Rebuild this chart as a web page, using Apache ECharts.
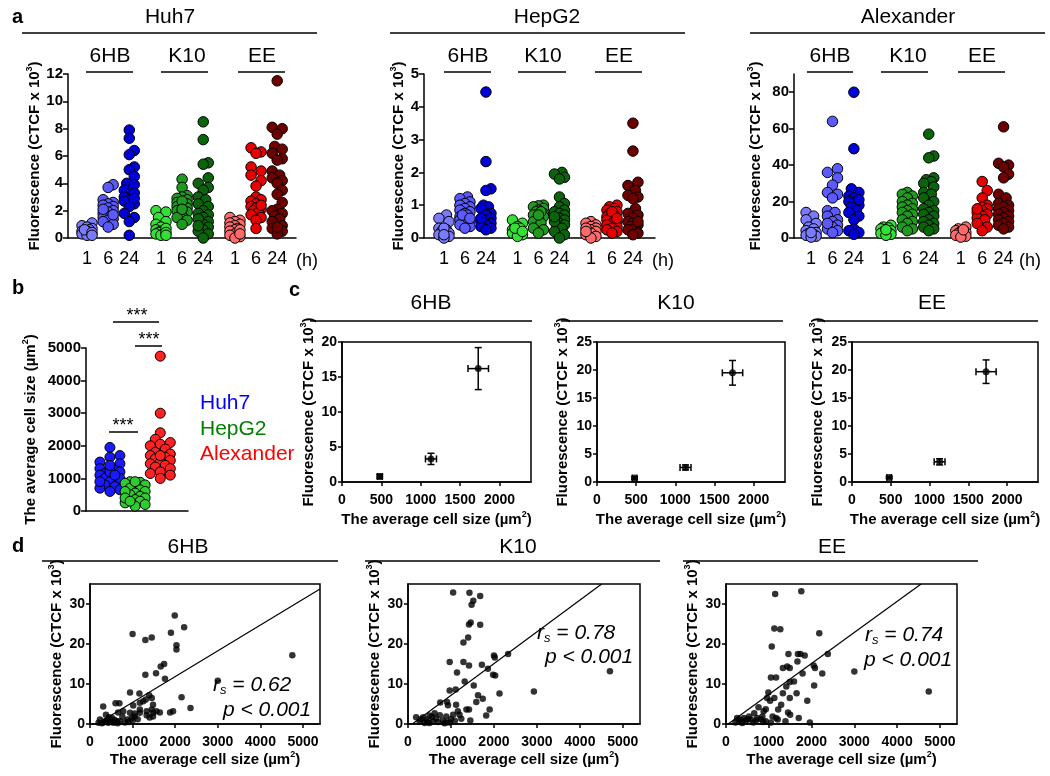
<!DOCTYPE html>
<html><head><meta charset="utf-8">
<script src="https://cdn.jsdelivr.net/npm/echarts@6/dist/echarts.min.js"></script>
<style>html,body{margin:0;padding:0;background:#fff}#c{width:1050px;height:776px}</style>
</head><body><div id="c"></div>
<script>
// ================= DATA =================
const cellLines = ['Huh7', 'HepG2', 'Alexander'];
const treatments = ['6HB', 'K10', 'EE'];
const timeLabels = ['1', '6', '24'];

// Panel a : fluorescence (CTCF x 10^3) per cell line / treatment / time
const huh7_6HB_1h  = [1.1, 0.9, 0.8, 0.7, 0.6, 0.5, 0.5, 0.4, 0.3, 0.3, 0.2, 0.6, 0.4, 0.2];
const huh7_6HB_6h  = [3.9, 3.7, 2.8, 2.6, 2.5, 2.4, 2.3, 2.2, 2.0, 1.9, 1.8, 1.6, 1.5, 1.4, 1.3, 1.2, 1.0, 0.8, 2.1, 1.7];
const huh7_6HB_24h = [7.9, 7.3, 6.4, 6.1, 5.2, 5.0, 4.5, 4.0, 3.9, 3.5, 3.2, 3.0, 2.8, 2.7, 2.5, 2.3, 1.8, 1.5, 1.2, 0.2, 3.3, 2.9];
const huh7_K10_1h  = [2.0, 1.9, 1.5, 1.2, 1.0, 0.8, 0.6, 0.5, 0.4, 0.3, 0.3, 0.2, 0.7, 0.4, 0.2];
const huh7_K10_6h  = [4.3, 3.7, 3.1, 3.0, 2.9, 2.8, 2.6, 2.5, 2.4, 2.3, 2.2, 2.0, 1.9, 1.6, 1.5, 1.3, 1.0, 2.7, 2.1];
const huh7_K10_24h = [8.5, 7.2, 5.5, 5.4, 4.4, 4.0, 3.7, 3.5, 3.0, 2.8, 2.5, 2.3, 2.0, 1.8, 1.7, 1.5, 1.2, 1.0, 0.8, 0.6, 0.5, 0.3, 0.0, 1.4, 0.9];
const huh7_EE_1h   = [1.5, 1.3, 1.2, 1.1, 1.0, 0.9, 0.8, 0.7, 0.6, 0.5, 0.4, 0.3, 0.2, 0.1, 0.0, 0.6, 0.3];
const huh7_EE_6h   = [6.6, 6.3, 6.2, 5.2, 4.9, 4.6, 4.2, 3.8, 3.0, 2.8, 2.7, 2.5, 2.3, 2.2, 2.1, 2.0, 1.9, 1.7, 1.5, 1.3, 0.7, 2.4];
const huh7_EE_24h  = [11.5, 8.1, 8.0, 7.6, 6.7, 6.5, 6.2, 5.8, 5.7, 4.9, 4.6, 4.4, 4.2, 4.0, 3.5, 3.2, 2.6, 2.1, 2.0, 1.8, 1.6, 1.4, 1.2, 0.9, 0.7, 0.5, 0.3, 0.8];

const hepg2_6HB_1h  = [0.7, 0.6, 0.5, 0.3, 0.25, 0.2, 0.15, 0.1, 0.05, 0.0, 0.3, 0.1];
const hepg2_6HB_6h  = [1.25, 1.2, 1.1, 1.05, 1.0, 0.95, 0.9, 0.85, 0.8, 0.75, 0.7, 0.65, 0.6, 0.55, 0.5, 0.45, 0.4, 0.35, 0.3, 0.7, 0.6];
const hepg2_6HB_24h = [4.45, 2.33, 1.5, 1.45, 1.0, 0.95, 0.9, 0.75, 0.7, 0.6, 0.55, 0.5, 0.45, 0.4, 0.35, 0.3, 0.25, 0.6];
const hepg2_K10_1h  = [0.55, 0.45, 0.35, 0.3, 0.25, 0.2, 0.15, 0.1, 0.05, 0.3, 0.2];
const hepg2_K10_6h  = [1.0, 0.98, 0.95, 0.9, 0.85, 0.8, 0.75, 0.7, 0.65, 0.6, 0.5, 0.45, 0.3, 0.25, 0.15, 0.8, 0.7];
const hepg2_K10_24h = [2.0, 1.95, 1.85, 1.8, 1.25, 1.05, 0.95, 0.85, 0.8, 0.75, 0.7, 0.6, 0.55, 0.45, 0.4, 0.35, 0.3, 0.2, 0.1, 0.0, 0.5, 0.65];
const hepg2_EE_1h   = [0.5, 0.45, 0.4, 0.35, 0.3, 0.25, 0.2, 0.15, 0.1, 0.05, 0.0, 0.3, 0.2];
const hepg2_EE_6h   = [1.0, 0.95, 0.9, 0.85, 0.8, 0.75, 0.7, 0.65, 0.6, 0.55, 0.5, 0.45, 0.4, 0.35, 0.3, 0.25, 0.2, 0.15, 0.8, 0.6];
const hepg2_EE_24h  = [3.5, 2.65, 1.7, 1.6, 1.45, 1.3, 1.25, 1.2, 0.9, 0.75, 0.7, 0.6, 0.5, 0.45, 0.4, 0.35, 0.3, 0.25, 0.15, 0.1, 0.5];

const alex_6HB_1h  = [14, 12, 10, 8, 6, 5, 4, 3, 2.5, 2, 1.5, 1, 0.5, 3];
const alex_6HB_6h  = [64, 38, 36, 33, 29, 25, 24, 22, 15, 14, 12, 10, 9, 7, 6, 5, 4, 3, 8];
const alex_6HB_24h = [80, 49, 27, 25, 23, 22, 20, 19, 18, 17, 15, 14, 12, 10, 5, 4, 3, 2, 21];
const alex_K10_1h  = [7, 6, 5.5, 5, 4, 3.5, 3, 2.5, 2, 1.5, 4.5];
const alex_K10_6h  = [25, 24, 23, 22, 20, 19, 18, 17, 16, 15, 14, 13, 12, 10, 9, 8, 6, 5, 4];
const alex_K10_24h = [57, 45, 44, 33, 32, 31, 30, 28, 25, 24, 22, 20, 18, 16, 15, 14, 13, 12, 10, 9, 8, 7, 6, 5, 4];
const alex_EE_1h   = [6, 5, 4, 3.5, 3, 2.5, 2, 1.5, 1, 0.5, 4.5];
const alex_EE_6h   = [31, 26, 22, 18, 17, 16, 15, 14, 13, 12, 11, 10, 8, 6, 4, 16];
const alex_EE_24h  = [61, 41, 40, 39, 35, 33, 24, 22, 19, 18, 17, 16, 15, 14, 13, 12, 11, 10, 9, 8, 7, 6, 5];

// Panel a y-axis ticks
const huh7Ticks = [0, 2, 4, 6, 8, 10, 12];
const hepg2Ticks = [0, 1, 2, 3, 4, 5];
const alexTicks = [0, 20, 40, 60, 80];

// Panel b : average cell size (um^2)
const sizeHuh7  = [1950, 1700, 1650, 1500, 1450, 1300, 1250, 1200, 1150, 1100, 1050, 1000, 950, 900, 850, 800, 750, 700, 650, 600, 1000, 1200, 1400, 900, 1100];
const sizeHepG2 = [900, 880, 850, 800, 750, 700, 650, 600, 550, 500, 450, 400, 350, 300, 250, 200, 150, 900, 600, 400, 300];
const sizeAlex  = [4750, 3000, 2400, 2200, 2100, 2050, 2000, 1900, 1800, 1750, 1700, 1650, 1600, 1550, 1500, 1450, 1400, 1350, 1300, 1200, 1150, 1100, 1000, 1700];
const sizeTicks = [0, 1000, 2000, 3000, 4000, 5000];

// Panel c : means +/- error (order HepG2, Huh7, Alexander)
const cSize    = [480, 1130, 1730];
const cSizeErr = [30, 70, 130];
const c6HB     = [0.8, 3.3, 16.2];
const c6HBErr  = [0.3, 0.8, 3.0];
const cK10     = [0.7, 2.6, 19.5];
const cK10Err  = [0.25, 0.45, 2.2];
const cEE      = [0.8, 3.6, 19.7];
const cEEErr   = [0.2, 0.55, 2.1];
const cXTicks  = [0, 500, 1000, 1500, 2000];

// Panel d : individual points [cell size, fluorescence]
const d6HB = [[1000,22.5],[1300,21.0],[1450,21.6],[1990,27.1],[1900,22.8],[2210,24.2],[2030,19.7],[2030,18.6],[4750,17.2],[3000,10.8],
 [1740,15.0],[1660,14.4],[1550,12.7],[1300,12.3],[1760,11.3],[2150,6.7],[2360,4.0],[940,7.9],[1160,7.6],[1390,7.2],[1450,6.5],[1250,5.7],
 [1015,4.6],[690,5.2],[600,5.2],[310,4.4],[1170,5.3],[1310,6.1],[1480,4.8],[1450,3.6],[1560,3.2],[1950,3.2],[1880,2.9],[1640,2.9],[1480,1.9],
 [1330,2.2],[1170,2.8],[1050,2.6],[940,2.8],[780,3.2],[660,2.9],[880,1.1],[980,1.5],[625,0.7],[470,0.7],[310,0.4],[200,0.3],[390,0.9],
 [550,0.3],[700,0.7],[820,0.4],[1050,1.9],[235,1.1],[375,2.3],[1170,3.6],[1330,3.2],[1480,2.8],[280,0.2],[430,0.3],[520,1.5],[760,1.8],
 [900,0.5],[350,0.6],[650,0.2],[1000,0.9],[1120,1.2],[450,1.7],[1400,1.6],[580,1.0]];
const dK10 = [[1050,32.9],[1430,32.8],[1680,32.0],[1520,30.8],[1480,29.8],[1460,25.4],[1420,24.9],[1680,24.8],[1400,21.6],[1290,20.4],
 [970,15.5],[1290,15.5],[1420,14.6],[1720,14.8],[1140,12.9],[2000,17.1],[2020,16.6],[2330,17.5],[1860,13.8],[1980,12.3],[2030,12.1],
 [1320,10.6],[1530,9.6],[970,8.4],[1110,8.6],[2930,8.1],[4700,13.2],[2130,7.6],[1630,7.2],[1740,6.3],[1590,5.5],[750,5.4],[910,5.5],
 [930,4.7],[1120,4.8],[1360,3.6],[1420,3.6],[1900,3.6],[1820,2.1],[1450,0.9],[1160,3.2],[1200,2.3],[1050,2.3],[890,1.9],[740,2.2],
 [620,2.7],[500,2.1],[350,1.7],[190,1.7],[270,0.7],[430,1.1],[580,0.7],[700,0.5],[810,0.9],[970,0.4],[1090,0.8],[1240,1.3],[500,0.25],
 [390,0.25],[890,0.4],[650,1.4],[300,1.2],[850,0.2],[1000,1.2],[560,1.8],[450,0.5]];
const dEE = [[1150,32.5],[1760,33.2],[1130,23.9],[1270,23.7],[2180,22.7],[1070,19.4],[1740,17.5],[1680,17.5],[1840,17.1],[2380,17.5],
 [1460,17.5],[1430,14.4],[1490,14.0],[1330,14.0],[2050,14.6],[2080,14.0],[1670,15.6],[2250,12.6],[1790,12.6],[3000,13.1],[1050,11.6],
 [1170,11.6],[1490,10.5],[1590,10.6],[2060,9.6],[1410,9.4],[990,7.9],[1330,7.7],[1650,7.7],[4740,8.1],[960,6.5],[1030,5.8],[1130,6.5],
 [1490,6.5],[1900,5.8],[1290,4.8],[760,4.2],[930,3.7],[880,3.2],[1220,3.6],[1450,2.9],[1500,2.3],[660,2.7],[1170,1.5],[1210,1.1],
 [1700,1.5],[1390,0.7],[1960,0.4],[260,1.5],[340,1.1],[460,0.7],[580,1.1],[700,0.9],[810,1.2],[930,0.7],[1050,0.4],[540,1.9],[420,1.5],
 [220,0.4],[380,0.25],[730,1.5],[850,1.9],[1090,1.9],[300,0.8],[640,0.4],[500,1.2],[870,0.5]];
const dXTicks = [0, 1000, 2000, 3000, 4000, 5000];
const dYTicks = [0, 10, 20, 30];
// Spearman annotations and fitted line (slope, intercept)
const dRs = ['0.62', '0.78', '0.74'];
const dP = ['0.001', '0.001', '0.001'];
const dSlope = [0.00644, 0.00794, 0.00776];
const dIntercept = [-1.03, -0.79, -0.39];

// ================= BUILD =================
const FONT = '"Liberation Sans", Arial, Helvetica, sans-serif';
const aData = [
  [[huh7_6HB_1h, huh7_6HB_6h, huh7_6HB_24h], [huh7_K10_1h, huh7_K10_6h, huh7_K10_24h], [huh7_EE_1h, huh7_EE_6h, huh7_EE_24h]],
  [[hepg2_6HB_1h, hepg2_6HB_6h, hepg2_6HB_24h], [hepg2_K10_1h, hepg2_K10_6h, hepg2_K10_24h], [hepg2_EE_1h, hepg2_EE_6h, hepg2_EE_24h]],
  [[alex_6HB_1h, alex_6HB_6h, alex_6HB_24h], [alex_K10_1h, alex_K10_6h, alex_K10_24h], [alex_EE_1h, alex_EE_6h, alex_EE_24h]]
];
const aTicks = [huh7Ticks, hepg2Ticks, alexTicks];
const aColors = [['#7b7bff', '#5a5aff', '#0000d8'], ['#33e033', '#1f9a1f', '#0a640a'], ['#ff6a6a', '#e80000', '#6e0000']];

const aLayout = [
  {left: 68, width: 228, xmin: 0.10, xmax: 10.89, ymax: 12, gap: 24, titleX: 170, lineX: [22, 317], trtX: [110, 187, 262], trtL: [[86,133],[161,208],[238,285]], hX: 307},
  {left: 424, width: 231, xmin: 0.05, xmax: 11.05, ymax: 5, gap: 16, titleX: 547, lineX: [390, 685], trtX: [468, 543, 619], trtL: [[444,491],[518,566],[595,642]], hX: 663},
  {left: 794, width: 216, xmin: 0.2, xmax: 10.3, ymax: 90, gap: 29, titleX: 908, lineX: [750, 1045], trtX: [830, 908, 982], trtL: [[807,853],[881,928],[958,1005]], hX: 1030}
];
const A_TOP = 74, A_H = 164;

const grids = [], xAxes = [], yAxes = [], series = [], graphics = [];
const plain = v => String(v);

function swarm(values, pxPerY, cands, minDist) {
  const order = values.map((v, i) => i).sort((a, b) => values[a] - values[b]);
  const placed = [], offs = new Array(values.length);
  for (const i of order) {
    const y = values[i] * pxPerY;
    let best = null, bestD = -1;
    for (const c of cands) {
      let md = Infinity;
      for (const p of placed) { const d = Math.hypot(p[0] - c, p[1] - y); if (d < md) md = d; }
      if (md >= minDist) { best = c; bestD = md; break; }
      if (md > bestD) { bestD = md; best = c; }
    }
    placed.push([best, y]); offs[i] = best;
  }
  return offs;
}

function txt(x, y, text, font, fill, align, extra) {
  graphics.push(Object.assign({type: 'text', x, y, silent: true, z: 100,
    style: Object.assign({text, font, fill: fill || '#000', align: align || 'center', verticalAlign: 'middle'}, extra || {})}));
}
function hline(x1, x2, y, w) {
  graphics.push({type: 'line', silent: true, z: 100, shape: {x1, y1: y, x2, y2: y}, style: {stroke: '#000', lineWidth: w || 1.5}});
}

const fluorName = '{n|Fluorescence (CTCF x 10}{s|3}{n|)}';
const sizeName = '{n|The average cell size (µm}{s|2}{n|)}';
function nameRich(fs) {
  return {
    n: {fontFamily: FONT, fontWeight: 'bold', fontSize: fs, color: '#000', lineHeight: fs + 4},
    s: {fontFamily: FONT, fontWeight: 'bold', fontSize: Math.round(fs * 0.62), color: '#000', verticalAlign: 'top', lineHeight: Math.round(fs * 0.62)}
  };
}

// ---------- Panel a ----------
let gi = 0;
const aPos = [1, 2, 3, 4.5, 5.5, 6.5, 8, 9, 10];
aLayout.forEach((L, p) => {
  grids.push({left: L.left, top: A_TOP, width: L.width, height: A_H, show: false});
  const U = L.width / (L.xmax - L.xmin);
  const pxPerY = A_H / L.ymax;
  xAxes.push({type: 'value', gridIndex: gi, min: L.xmin, max: L.xmax,
    axisLine: {show: true, onZero: false, lineStyle: {color: '#000', width: 1.5}},
    axisTick: {show: false}, splitLine: {show: false},
    axisLabel: {customValues: aPos, margin: 12, fontFamily: FONT, fontSize: 18, color: '#000',
      formatter: v => { const k = aPos.indexOf(v); return k < 0 ? '' : timeLabels[k % 3]; }}});
  yAxes.push({type: 'value', gridIndex: gi, min: 0, max: L.ymax,
    axisLine: {show: true, onZero: false, lineStyle: {color: '#000', width: 1.5}},
    axisTick: {show: true, length: 5, customValues: aTicks[p], lineStyle: {color: '#000', width: 1.5}},
    axisLabel: {customValues: aTicks[p], formatter: plain, margin: 5, fontFamily: FONT, fontWeight: 'bold', fontSize: 15, color: '#000'},
    splitLine: {show: false},
    name: fluorName, nameLocation: 'middle', nameGap: L.gap, nameRotate: 90, nameMoveOverlap: false,
    nameTextStyle: {rich: nameRich(15)}});
  aData[p].forEach((grp, g) => {
    grp.forEach((vals, t) => {
      const center = aPos[g * 3 + t];
      const offs = swarm(vals, pxPerY, [0, 5, -5, 2.5, -2.5], 8);
      series.push({type: 'scatter', xAxisIndex: gi, yAxisIndex: gi, symbolSize: 10.5, silent: true,
        itemStyle: {color: aColors[g][t], borderColor: '#000', borderWidth: 1, opacity: 1},
        data: vals.map((v, i) => [center + offs[i] / U, v])});
    });
  });
  txt(L.titleX, 17, cellLines[p], '21px ' + FONT);
  hline(L.lineX[0], L.lineX[1], 33);
  treatments.forEach((tr, g) => { txt(L.trtX[g], 56, tr, '21px ' + FONT); hline(L.trtL[g][0], L.trtL[g][1], 72); });
  txt(L.hX, 261, '(h)', '18px ' + FONT);
  gi++;
});

// ---------- Panel b ----------
const bColors = ['#1a1aff', '#2ecc2e', '#ff2222'];
const bSizes = [sizeHuh7, sizeHepG2, sizeAlex];
{
  const B = {left: 86, top: 348, width: 102, height: 163, xmin: 0.05, xmax: 4.1};
  grids.push({left: B.left, top: B.top, width: B.width, height: B.height, show: false});
  const U = B.width / (B.xmax - B.xmin), pxPerY = B.height / 5000;
  xAxes.push({type: 'value', gridIndex: gi, min: B.xmin, max: B.xmax,
    axisLine: {show: true, onZero: false, lineStyle: {color: '#000', width: 1.5}},
    axisTick: {show: false}, axisLabel: {show: false}, splitLine: {show: false}});
  yAxes.push({type: 'value', gridIndex: gi, min: 0, max: 5000,
    axisLine: {show: true, onZero: false, lineStyle: {color: '#000', width: 1.5}},
    axisTick: {show: true, length: 5, customValues: sizeTicks, lineStyle: {color: '#000', width: 1.5}},
    axisLabel: {customValues: sizeTicks, formatter: plain, margin: 5, fontFamily: FONT, fontWeight: 'bold', fontSize: 15, color: '#000'},
    splitLine: {show: false},
    name: sizeName, nameLocation: 'middle', nameGap: 46, nameRotate: 90, nameMoveOverlap: false,
    nameTextStyle: {rich: nameRich(15)}});
  bSizes.forEach((vals, k) => {
    const offs = swarm(vals, pxPerY, [0, 5, -5, 10, -10], 8);
    series.push({type: 'scatter', xAxisIndex: gi, yAxisIndex: gi, symbolSize: 10, silent: true,
      itemStyle: {color: bColors[k], borderColor: '#000', borderWidth: 1, opacity: 1},
      data: vals.map((v, i) => [k + 1 + offs[i] / U, v])});
  });
  gi++;
  // significance marks
  hline(113, 159, 322); txt(137, 316, '***', '18px ' + FONT);
  hline(135, 162, 346); txt(149, 340, '***', '18px ' + FONT);
  hline(109, 138, 432); txt(123, 426, '***', '18px ' + FONT);
  txt(200, 403, cellLines[0], '21px ' + FONT, '#0000ff', 'left');
  txt(200, 429, cellLines[1], '21px ' + FONT, '#008000', 'left');
  txt(200, 454, cellLines[2], '21px ' + FONT, '#ff0000', 'left');
}

// ---------- Panel c ----------
const cLayout = [{left: 342, width: 189, ymax: 20, gap: 24, tx: 431, lx: [310, 532]},
                 {left: 597, width: 188, ymax: 25, gap: 25, tx: 676, lx: [561, 783]},
                 {left: 852, width: 186, ymax: 25, gap: 25, tx: 932, lx: [817, 1038]}];
const cY = [c6HB, cK10, cEE], cYE = [c6HBErr, cK10Err, cEEErr];
const boxAxis = (extra) => Object.assign({
  axisLine: {show: true, onZero: false, lineStyle: {color: '#000', width: 1.5}},
  splitLine: {show: false}}, extra);
cLayout.forEach((L, k) => {
  grids.push({left: L.left, top: 342, width: L.width, height: 140, show: true, borderColor: '#000', borderWidth: 1.5, backgroundColor: 'transparent'});
  const yt = []; for (let v = 0; v <= L.ymax; v += 5) yt.push(v);
  xAxes.push(boxAxis({type: 'value', gridIndex: gi, min: 0, max: 2400,
    axisTick: {show: true, length: 4, customValues: cXTicks, lineStyle: {color: '#000', width: 1.5}},
    axisLabel: {customValues: cXTicks, formatter: plain, margin: 11, fontFamily: FONT, fontWeight: 'bold', fontSize: 14, color: '#000'},
    name: sizeName, nameLocation: 'middle', nameGap: 28, nameMoveOverlap: false, nameTextStyle: {rich: nameRich(15)}}));
  yAxes.push(boxAxis({type: 'value', gridIndex: gi, min: 0, max: L.ymax,
    axisTick: {show: true, length: 4, customValues: yt, lineStyle: {color: '#000', width: 1.5}},
    axisLabel: {customValues: yt, formatter: plain, margin: 5, fontFamily: FONT, fontWeight: 'bold', fontSize: 14, color: '#000'},
    name: fluorName, nameLocation: 'middle', nameGap: L.gap, nameRotate: 90, nameMoveOverlap: false,
    nameTextStyle: {rich: nameRich(15)}}));
  const data = cSize.map((x, i) => [x, cY[k][i], cSizeErr[i], cYE[k][i]]);
  series.push({type: 'custom', xAxisIndex: gi, yAxisIndex: gi, silent: true, data,
    encode: {x: 0, y: 1},
    renderItem: (params, api) => {
      const x = api.value(0), y = api.value(1), ex = api.value(2), ey = api.value(3);
      const c = api.coord([x, y]), l = api.coord([x - ex, y]), r = api.coord([x + ex, y]);
      const t = api.coord([x, y + ey]), b = api.coord([x, y - ey]);
      const st = {stroke: '#000', lineWidth: 1.5, fill: null};
      const cap = 3.5;
      return {type: 'group', children: [
        {type: 'line', shape: {x1: l[0], y1: c[1], x2: r[0], y2: c[1]}, style: st},
        {type: 'line', shape: {x1: c[0], y1: t[1], x2: c[0], y2: b[1]}, style: st},
        {type: 'line', shape: {x1: l[0], y1: c[1] - cap, x2: l[0], y2: c[1] + cap}, style: st},
        {type: 'line', shape: {x1: r[0], y1: c[1] - cap, x2: r[0], y2: c[1] + cap}, style: st},
        {type: 'line', shape: {x1: c[0] - cap, y1: t[1], x2: c[0] + cap, y2: t[1]}, style: st},
        {type: 'line', shape: {x1: c[0] - cap, y1: b[1], x2: c[0] + cap, y2: b[1]}, style: st}
      ]};
    }});
  series.push({type: 'scatter', xAxisIndex: gi, yAxisIndex: gi, symbolSize: 7, silent: true,
    itemStyle: {color: '#000'}, data: cSize.map((x, i) => [x, cY[k][i]])});
  txt(L.tx, 303, treatments[k], '21px ' + FONT);
  hline(L.lx[0], L.lx[1], 321);
  gi++;
});

// ---------- Panel d ----------
const dLayout = [{left: 90, width: 230, gap: 24, tx: 188, lx: [42, 338], r: [213, 685], p: [223, 710]},
                 {left: 408, width: 232, gap: 24, tx: 518, lx: [365, 660], r: [537, 633], p: [545, 657]},
                 {left: 726, width: 231, gap: 24, tx: 832, lx: [683, 978], r: [865, 635], p: [864, 660]}];
const dData = [d6HB, dK10, dEE];
dLayout.forEach((L, k) => {
  grids.push({left: L.left, top: 584, width: L.width, height: 140, show: true, borderColor: '#000', borderWidth: 1.5, backgroundColor: 'transparent'});
  xAxes.push(boxAxis({type: 'value', gridIndex: gi, min: 0, max: 5400,
    axisTick: {show: true, length: 4, customValues: dXTicks, lineStyle: {color: '#000', width: 1.5}},
    axisLabel: {customValues: dXTicks, formatter: plain, margin: 11, fontFamily: FONT, fontWeight: 'bold', fontSize: 14, color: '#000'},
    name: sizeName, nameLocation: 'middle', nameGap: 26, nameMoveOverlap: false, nameTextStyle: {rich: nameRich(15)}}));
  yAxes.push(boxAxis({type: 'value', gridIndex: gi, min: 0, max: 35,
    axisTick: {show: true, length: 4, customValues: dYTicks, lineStyle: {color: '#000', width: 1.5}},
    axisLabel: {customValues: dYTicks, formatter: plain, margin: 5, fontFamily: FONT, fontWeight: 'bold', fontSize: 14, color: '#000'},
    name: fluorName, nameLocation: 'middle', nameGap: L.gap, nameRotate: 90, nameMoveOverlap: false,
    nameTextStyle: {rich: nameRich(15)}}));
  series.push({type: 'scatter', xAxisIndex: gi, yAxisIndex: gi, symbolSize: 6.5, silent: true,
    itemStyle: {color: '#000'}, data: dData[k]});
  // fitted line clipped to plot box
  const x0 = -dIntercept[k] / dSlope[k];
  const xEnd = Math.min(5400, (35 - dIntercept[k]) / dSlope[k]);
  series.push({type: 'line', xAxisIndex: gi, yAxisIndex: gi, silent: true, symbol: 'none',
    lineStyle: {color: '#000', width: 1.2}, data: [[x0, 0], [xEnd, dSlope[k] * xEnd + dIntercept[k]]]});
  txt(L.tx, 547, treatments[k], '21px ' + FONT);
  hline(L.lx[0], L.lx[1], 561);
  graphics.push({type: 'text', x: L.r[0], y: L.r[1], silent: true, z: 100,
    style: {text: '{i|r}{sub|s}{i| = ' + dRs[k] + '}', align: 'left', verticalAlign: 'middle',
      rich: {i: {fontFamily: FONT, fontStyle: 'italic', fontSize: 21, fill: '#000', lineHeight: 24},
             sub: {fontFamily: FONT, fontStyle: 'italic', fontSize: 13, fill: '#000', verticalAlign: 'bottom', lineHeight: 13}}}});
  txt(L.p[0], L.p[1], 'p < ' + dP[k], 'italic 21px ' + FONT, '#000', 'left');
  gi++;
});

// panel letters
txt(12, 17, 'a', 'bold 20px ' + FONT, '#000', 'left');
txt(12, 288, 'b', 'bold 20px ' + FONT, '#000', 'left');
txt(289, 290, 'c', 'bold 20px ' + FONT, '#000', 'left');
txt(12, 546, 'd', 'bold 20px ' + FONT, '#000', 'left');

const chart = echarts.init(document.getElementById('c'), null, {renderer: 'canvas'});
chart.setOption({animation: false, backgroundColor: '#fff', grid: grids, xAxis: xAxes, yAxis: yAxes, series, graphic: graphics});
</script></body></html>
